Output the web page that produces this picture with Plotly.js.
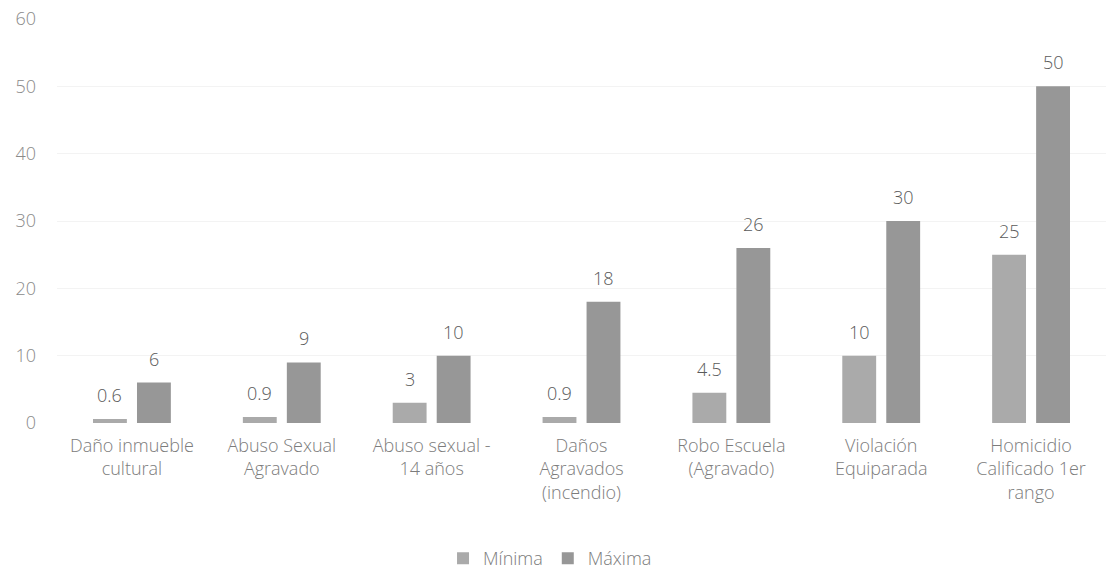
<!DOCTYPE html>
<html><head><meta charset="utf-8">
<script src="https://cdn.plot.ly/plotly-3.0.1.min.js"></script>
<style>html,body{margin:0;padding:0;background:#fff}</style>
</head><body>
<div id="chart" style="width:1106px;height:575px"></div>
<script>
const categories = [
  "Daño inmueble<br>cultural",
  "Abuso Sexual<br>Agravado",
  "Abuso sexual -<br>14 años",
  "Daños<br>Agravados<br>(incendio)",
  "Robo Escuela<br>(Agravado)",
  "Violación<br>Equiparada",
  "Homicidio<br>Calificado 1er<br>rango"
];
const minima = [0.6, 0.9, 3, 0.9, 4.5, 10, 25];
const maxima = [6, 9, 10, 18, 26, 30, 50];
const yTicks = [0, 10, 20, 30, 40, 50, 60];

const font = "'Open Sans', 'Noto Sans', sans-serif";
const textColor = '#7c7c7c';
const labelColor = '#5a5a5a';
const minColor = '#aaaaaa';
const maxColor = '#979797';

const traces = [
  {type:'bar', name:'Mínima', x:categories, y:minima, marker:{color:minColor}},
  {type:'bar', name:'Máxima', x:categories, y:maxima, marker:{color:maxColor}}
];

// value labels placed above each bar (offset to each bar's slot in the group)
const slotShift = 22;
const annotations = [];
categories.forEach((c, i) => {
  annotations.push({x:c, y:minima[i], text:String(minima[i]), showarrow:false,
    xref:'x', yref:'y', yanchor:'bottom', xshift:-slotShift, yshift:10,
    font:{family:font, size:18, color:labelColor, weight:300}});
  annotations.push({x:c, y:maxima[i], text:String(maxima[i]), showarrow:false,
    xref:'x', yref:'y', yanchor:'bottom', xshift:slotShift, yshift:10,
    font:{family:font, size:18, color:labelColor, weight:300}});
});

const layout = {
  width:1106, height:575,
  margin:{l:57, r:0, t:19, b:152, autoexpand:false},
  paper_bgcolor:'#fff', plot_bgcolor:'#fff',
  font:{family:font, color:textColor, size:18, weight:300},
  barmode:'group', bargap:0.413, bargroupgap:0.23,
  showlegend:true,
  legend:{orientation:'h', x:0.47, xanchor:'center', y:-0.29, yanchor:'top',
          font:{size:18, color:textColor, weight:300}, itemwidth:30, traceorder:'normal'},
  annotations: annotations,
  xaxis:{tickfont:{size:18, color:textColor, weight:300}, showline:false, ticks:'',
         ticklabelstandoff:10, tickangle:0, automargin:false},
  yaxis:{range:[0,60], tickvals:yTicks, ticktext:yTicks.map(String),
         showgrid:true, gridcolor:'#f3f3f3', zeroline:false, showline:false,
         ticks:'', ticklabelstandoff:20, tickfont:{size:18, color:'#8a8a8a', weight:300}, automargin:false}
};
Plotly.newPlot('chart', traces, layout, {displayModeBar:false, staticPlot:true});
</script>
</body></html>
